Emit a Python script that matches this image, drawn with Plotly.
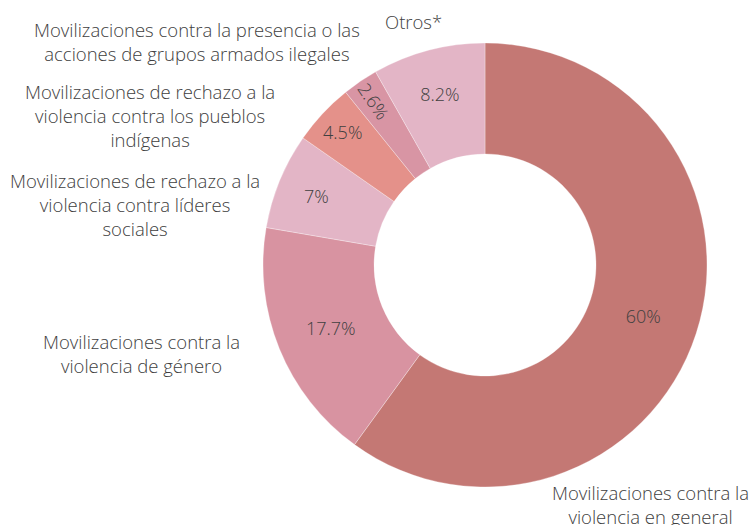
import plotly.graph_objects as go

categories = [
    "Movilizaciones contra la<br>violencia en general",
    "Movilizaciones contra la<br>violencia de género",
    "Movilizaciones de rechazo a la<br>violencia contra líderes<br>sociales",
    "Movilizaciones de rechazo a la<br>violencia contra los pueblos<br>indígenas",
    "Movilizaciones contra la presencia o las<br>acciones de grupos armados ilegales",
    "Otros*",
]
values = [60, 17.7, 7, 4.5, 2.6, 8.2]
colors = ["#C47874", "#D893A1", "#E3B5C6", "#E4918A", "#D895A4", "#E3B5C6"]

# label anchor positions (pixel coords, style only)
label_pos = [(650, 504), (141, 353), (135, 205), (150, 115), (197, 42), (413, 22)]

W, H = 751, 525
FONT = "Open Sans"
TXT = "#404040"

fig = go.Figure(go.Pie(
    values=values,
    labels=[c.replace("<br>", " ") for c in categories],
    texttemplate="%{value}%",
    textposition="inside",
    insidetextorientation="auto",
    hole=0.5,
    sort=False,
    direction="clockwise",
    rotation=0,
    marker=dict(colors=colors, line=dict(color="rgba(255,255,255,0.6)", width=0.5)),
    textfont=dict(family=FONT, size=18, color=TXT, weight=300),
    showlegend=False,
    hoverinfo="label+percent",
    domain=dict(x=[263 / W, 707 / W], y=[(H - 487) / H, (H - 43) / H]),
))

annotations = []
for text, (px, py) in zip(categories, label_pos):
    annotations.append(dict(
        text=text, x=px / W, y=1 - py / H, xref="paper", yref="paper",
        xanchor="center", yanchor="middle", showarrow=False, align="center",
        font=dict(family=FONT, size=18.5, color=TXT, weight=300),
    ))

fig.update_layout(
    width=W, height=H,
    margin=dict(l=0, r=0, t=0, b=0),
    paper_bgcolor="white", plot_bgcolor="white",
    annotations=annotations,
    font=dict(family=FONT),
)

fig.write_html("out.html", config={"displayModeBar": False},
               post_script="document.body.style.margin='0';")
